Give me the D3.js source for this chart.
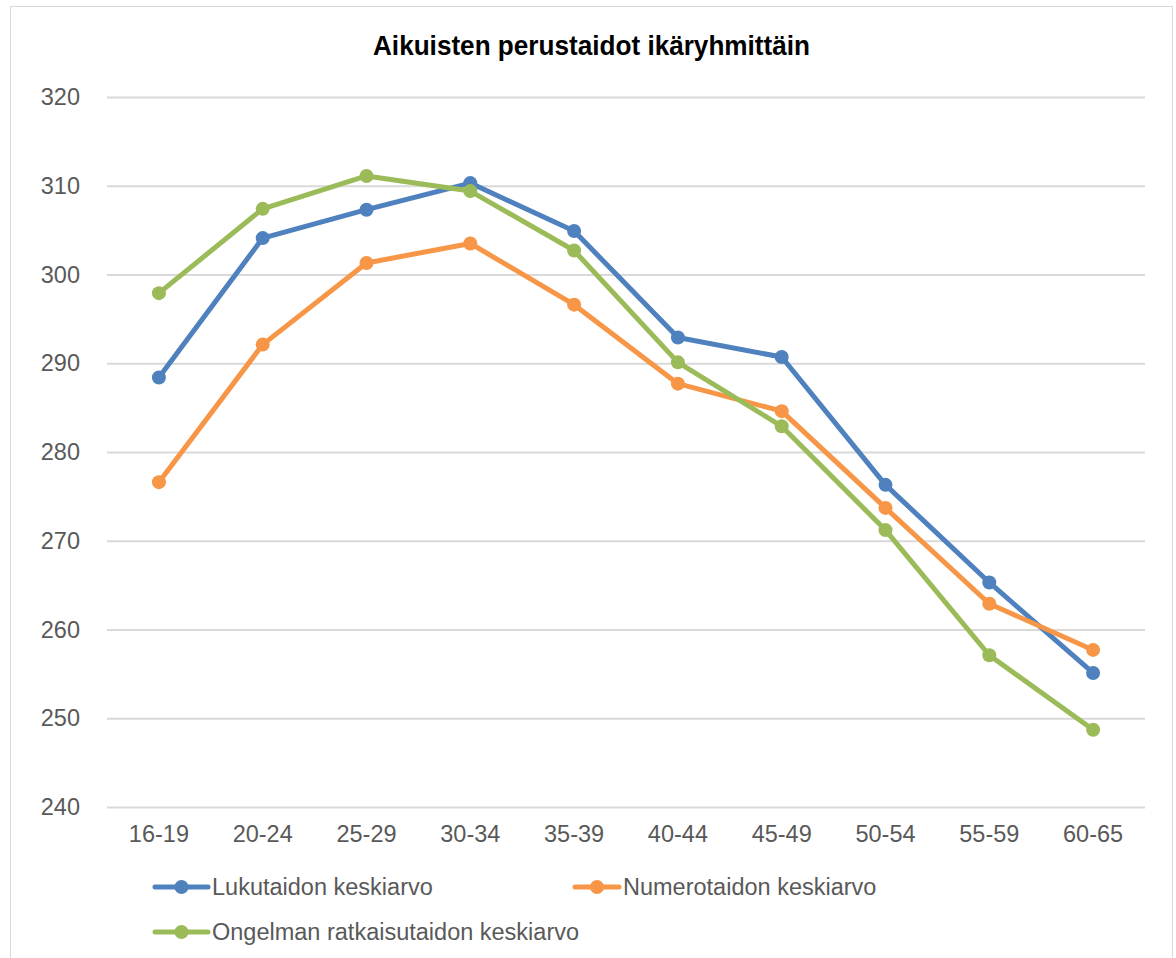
<!DOCTYPE html>
<html><head><meta charset="utf-8">
<script src="https://cdn.jsdelivr.net/npm/d3@7"></script>
<style>body{margin:0;background:#fff}svg{display:block}</style>
</head><body>
<svg id="c" width="1176" height="958"></svg>
<script>
const categories = ["16-19","20-24","25-29","30-34","35-39","40-44","45-49","50-54","55-59","60-65"];
const lukutaito = [288.4,304.1,307.3,310.3,304.9,292.9,290.7,276.3,265.3,255.1];
const numerotaito = [276.6,292.1,301.3,303.5,296.6,287.7,284.6,273.7,262.9,257.7];
const ongelma = [297.9,307.4,311.1,309.4,302.7,290.1,282.9,271.2,257.1,248.7];
const yTicks = [240,250,260,270,280,290,300,310,320];
const seriesNames = ["Lukutaidon keskiarvo","Numerotaidon keskiarvo","Ongelman ratkaisutaidon keskiarvo"];
const colors = ["#4e81bd","#f79646","#9bbb59"];
const series = [lukutaito, numerotaito, ongelma];

const svg = d3.select("#c");
svg.append("rect").attr("x",10.5).attr("y",6.5).attr("width",1162).attr("height",960)
  .attr("fill","#fff").attr("stroke","#d9d9d9").attr("stroke-width",1);

const x = d3.scaleBand().domain(categories).range([107,1145]);
const y = d3.scaleLinear().domain([240,320]).range([807,97]);

svg.append("text").attr("x",373).attr("y",55)
  .attr("font-family","Liberation Sans, Arial, sans-serif").attr("font-weight","bold")
  .attr("font-size",27).attr("fill","#000")
  .attr("textLength",437).attr("lengthAdjust","spacingAndGlyphs")
  .text("Aikuisten perustaidot ikäryhmittäin");

const yAxis = svg.append("g").attr("transform","translate(107,0)")
  .call(d3.axisLeft(y).tickValues(yTicks).tickSize(-1038).tickPadding(27).tickFormat(d3.format("d")));
yAxis.select(".domain").remove();
yAxis.selectAll(".tick line").attr("stroke","#d9d9d9").attr("stroke-width",2);
yAxis.selectAll(".tick text").attr("font-family","Liberation Sans, Arial, sans-serif").attr("font-size",23.5).attr("fill","#595959");

const xAxis = svg.append("g").attr("transform","translate(0,807)")
  .call(d3.axisBottom(x).tickSize(0).tickPadding(18));
xAxis.select(".domain").remove();
xAxis.selectAll(".tick text").attr("font-family","Liberation Sans, Arial, sans-serif").attr("font-size",23.5).attr("fill","#595959");

const line = d3.line().x((d,i)=>x(categories[i])+x.bandwidth()/2).y(d=>y(d));
series.forEach((s,k)=>{
  svg.append("path").datum(s).attr("d",line).attr("fill","none")
    .attr("stroke",colors[k]).attr("stroke-width",5).attr("stroke-linejoin","round").attr("stroke-linecap","round");
  svg.selectAll(null).data(s).enter().append("circle")
    .attr("cx",(d,i)=>x(categories[i])+x.bandwidth()/2).attr("cy",d=>y(d)).attr("r",7).attr("fill",colors[k]);
});

const legendPos = [[155,887,53],[575,887,44],[155,932,53]];
seriesNames.forEach((n,k)=>{
  const [lx,ly,lw] = legendPos[k];
  const g = svg.append("g");
  g.append("line").attr("x1",lx).attr("x2",lx+lw).attr("y1",ly).attr("y2",ly)
    .attr("stroke",colors[k]).attr("stroke-width",5).attr("stroke-linecap","round");
  g.append("circle").attr("cx",lx+lw/2).attr("cy",ly).attr("r",7).attr("fill",colors[k]);
  g.append("text").attr("x",lx+lw+4).attr("y",ly+8).attr("font-family","Liberation Sans, Arial, sans-serif")
    .attr("font-size",23.5).attr("fill","#595959").text(n);
});
</script>
</body></html>
